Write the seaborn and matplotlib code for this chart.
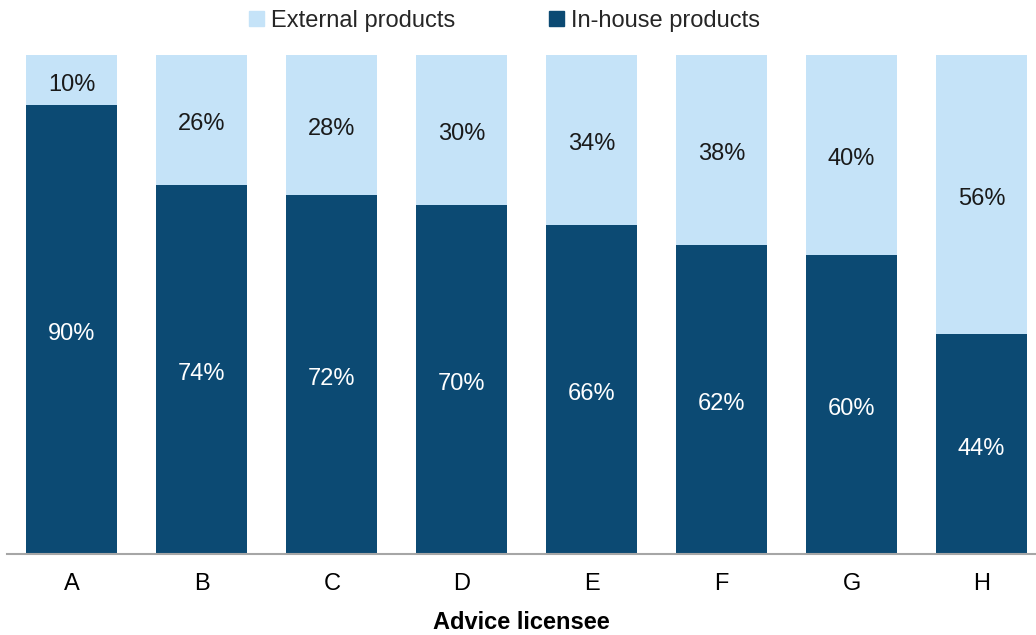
import matplotlib
matplotlib.use("Agg")
import matplotlib.pyplot as plt
import seaborn as sns
import pandas as pd
from matplotlib.patches import Patch

categories = ["A", "B", "C", "D", "E", "F", "G", "H"]
inhouse = [90, 74, 72, 70, 66, 62, 60, 44]
external = [10, 26, 28, 30, 34, 38, 40, 56]

dark = "#0C4A73"
light = "#C5E3F8"

sns.set_theme(style="white")
plt.rcParams['font.family'] = ['Liberation Sans', 'DejaVu Sans']

df = pd.DataFrame({"cat": categories, "inhouse": inhouse, "external": external})
df["total"] = df["inhouse"] + df["external"]

fig = plt.figure(figsize=(10.36, 6.35), dpi=100)
ax = fig.add_axes([7/1036, (635-554)/635, 1 - 7/1036, (554-55)/635])

sns.barplot(data=df, x="cat", y="total", color=light, width=0.7, ax=ax,
            saturation=1, linewidth=0)
sns.barplot(data=df, x="cat", y="inhouse", color=dark, width=0.7, ax=ax,
            saturation=1, linewidth=0)

for i, (h, e) in enumerate(zip(inhouse, external)):
    ax.annotate(f"{h}%", (i, h / 2), xytext=(0, -3.3), textcoords="offset points",
                ha="center", va="center", color="white", fontsize=17)
    ax.annotate(f"{e}%", (i, h + e / 2), xytext=(0, -3.3), textcoords="offset points",
                ha="center", va="center", color="#1a1a1a", fontsize=17)

ax.set_ylim(0, 100)
ax.set_xlim(-0.5, 7.42)
ax.set_yticks([])
ax.set_ylabel("")
ax.set_xlabel("Advice licensee", fontsize=17, fontweight="bold", labelpad=11, color="black")
ax.tick_params(axis="x", labelsize=17, colors="black", length=0, pad=14)
for s in ["top", "right", "left"]:
    ax.spines[s].set_visible(False)
ax.spines["bottom"].set_color("#A6A6A6")
ax.spines["bottom"].set_linewidth(1.5)

handles = [Patch(color=light, label="External products"),
           Patch(color=dark, label="In-house products")]
fig.legend(handles=handles, loc="upper center", bbox_to_anchor=(0.487, 1.018), ncol=2,
           frameon=False, fontsize=17, handlelength=0.6, handleheight=0.6,
           handletextpad=0.3, columnspacing=4.0)

fig.savefig("out.png", dpi=100)
